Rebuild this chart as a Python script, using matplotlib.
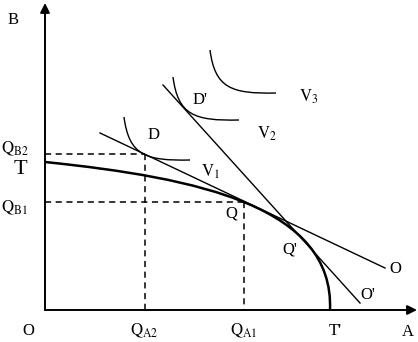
import numpy as np
import matplotlib; matplotlib.use('Agg')
import matplotlib.pyplot as plt
from matplotlib.path import Path
from matplotlib.patches import PathPatch

plt.rcParams['font.family'] = 'Liberation Serif'
plt.rcParams['mathtext.fontset'] = 'stix'

# everything in picture pixel coordinates (y grows downward)
ORIGIN = (45, 310)
X_END = 417
Y_END = 3

# production possibility frontier T-T' (cubic bezier control points)
PPF = [(45, 162), (200, 178), (334, 207), (330, 310)]
# indifference curves V1, V2, V3 (cubic bezier control points)
V1 = [(124, 117), (129, 155), (145, 161), (190, 160)]
V2 = [(173, 77), (178, 115), (194, 121), (239, 120)]
V3 = [(210, 50), (215, 88), (231, 94), (276, 93)]
# price lines
LINE_O = [(100, 133), (385, 268)]
LINE_O2 = [(163, 85), (360, 303)]
# dashed guides: (x, y) corner points
QA2, QB2 = 145, 154
QA1, QB1 = 244, 202

labels = [
    ('B', 13, 20, 12), ('O', 28, 331, 12), ('A', 408, 332, 12),
    (r"T'", 335, 331, 12), (r'$\mathrm{Q_{A2}}$', 144, 331, 12),
    (r'$\mathrm{Q_{A1}}$', 244, 331, 12), (r'$\mathrm{Q_{B2}}$', 15, 149, 12),
    ('T', 20, 169, 16), (r'$\mathrm{Q_{B1}}$', 14, 208, 12),
    ('D', 154, 135, 12), ("D'", 200, 100, 12), (r'$\mathrm{V_1}$', 210, 172, 12),
    (r'$\mathrm{V_2}$', 267, 134, 12), (r'$\mathrm{V_3}$', 309, 97, 12),
    ('Q', 231, 213, 12), ("Q'", 290, 250, 12), ('O', 395, 269, 12),
    ("O'", 368, 295, 12),
]

fig = plt.figure(figsize=(4.18, 3.42), dpi=100)
ax = fig.add_axes([0, 0, 1, 1])
ax.set_xlim(0, 418)
ax.set_ylim(342, 0)
ax.axis('off')

def bezier(pts, lw):
    codes = [Path.MOVETO, Path.CURVE4, Path.CURVE4, Path.CURVE4]
    ax.add_patch(PathPatch(Path(pts, codes), fc='none', ec='k', lw=lw))

# axes with arrows
ax.annotate('', xy=(ORIGIN[0], Y_END), xytext=ORIGIN,
            arrowprops=dict(arrowstyle='-|>', lw=1.4, color='k', mutation_scale=14, shrinkA=0, shrinkB=0))
ax.annotate('', xy=(X_END, ORIGIN[1]), xytext=ORIGIN,
            arrowprops=dict(arrowstyle='-|>', lw=1.4, color='k', mutation_scale=14, shrinkA=0, shrinkB=0))

bezier(PPF, 1.8)
for v in (V1, V2, V3):
    bezier(v, 1.0)
for ln in (LINE_O, LINE_O2):
    ax.plot(*zip(*ln), 'k-', lw=1.0)

dash = dict(color='k', lw=1.1, ls=(0, (4, 3)))
ax.plot([ORIGIN[0], QA2], [QB2, QB2], **dash)
ax.plot([QA2, QA2], [QB2, ORIGIN[1]], **dash)
ax.plot([ORIGIN[0], QA1], [QB1, QB1], **dash)
ax.plot([QA1, QA1], [QB1, ORIGIN[1]], **dash)

for s, x, y, fs in labels:
    ax.text(x, y, s, fontsize=fs, ha='center', va='center')

fig.savefig('out.png', dpi=100)
